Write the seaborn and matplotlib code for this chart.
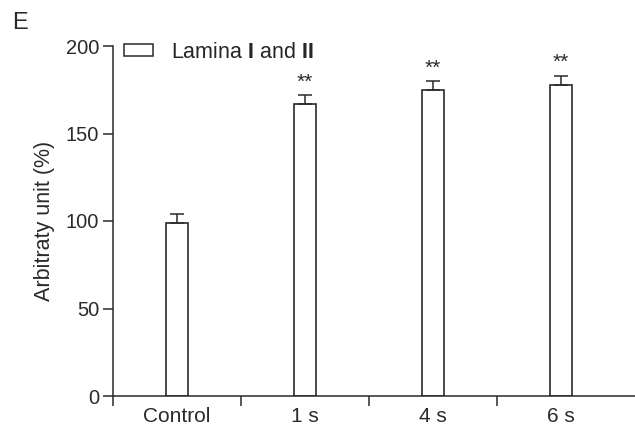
import matplotlib
matplotlib.use("Agg")
import matplotlib.pyplot as plt
import seaborn as sns
import pandas as pd
from matplotlib.patches import Patch

# Data
groups = ["Control", "1 s", "4 s", "6 s"]
means = [99, 167, 175, 178]
sems = [5, 5, 5, 5]
stars = ["", "**", "**", "**"]

sns.set_style("ticks")
plt.rcParams["font.family"] = ["Liberation Sans", "DejaVu Sans"]
plt.rcParams["mathtext.fontset"] = "custom"
plt.rcParams["mathtext.bf"] = "Liberation Sans:bold"
plt.rcParams["mathtext.rm"] = "Liberation Sans"
ink = "#2a2a2a"

df = pd.DataFrame({"group": groups, "value": means})

fig = plt.figure(figsize=(6.35, 4.28), dpi=100)
ax = fig.add_axes([113 / 635, 32 / 428, 522 / 635, 350 / 428])

sns.barplot(data=df, x="group", y="value", color="white", edgecolor=ink,
            linewidth=1.2, width=0.17, errorbar=None, ax=ax)

# upward-only error bars
ax.errorbar(range(len(groups)), means, yerr=[[0] * 4, sems], fmt="none",
            ecolor=ink, elinewidth=1.1, capsize=4.7, capthick=1.1)

for i, s in enumerate(stars):
    if s:
        ax.text(i, means[i] + sems[i] + 2, s, ha="center", va="bottom",
                fontsize=15, color=ink)

ax.set_xlim(-0.5, 3.58)
ax.set_ylim(0, 200)
ax.set_yticks([0, 50, 100, 150, 200])
ax.set_xticks(range(len(groups)))
ax.set_xticklabels(groups)
ax.tick_params(axis="x", which="major", length=0, pad=8, labelsize=15, colors=ink)
ax.set_xticks([-0.5, 0.5, 1.5, 2.5], minor=True)
ax.tick_params(axis="x", which="minor", length=7, width=1.1, color=ink, direction="out")
ax.tick_params(axis="y", length=7, width=1.1, labelsize=14.5, colors=ink, pad=3)
for sp in ["top", "right"]:
    ax.spines[sp].set_visible(False)
for sp in ["left", "bottom"]:
    ax.spines[sp].set_linewidth(1.1)
    ax.spines[sp].set_color(ink)

ax.set_xlabel("")
ax.set_ylabel("Arbitraty unit (%)", fontsize=15.5, color=ink, labelpad=8)

handle = Patch(facecolor="white", edgecolor=ink, linewidth=1.1)
ax.legend([handle], [r"Lamina $\mathbf{I}$ and $\mathbf{II}$"], loc="center left",
          bbox_to_anchor=(124 / 635, 1 - 52 / 428), bbox_transform=fig.transFigure,
          frameon=False, fontsize=15.5, borderpad=0, borderaxespad=0,
          handlelength=1.35, handleheight=0.5, handletextpad=0.84)

fig.text(12 / 635, 1 - 23 / 428, "E", fontsize=17, color=ink, va="center")

fig.savefig("out.png", dpi=100)
